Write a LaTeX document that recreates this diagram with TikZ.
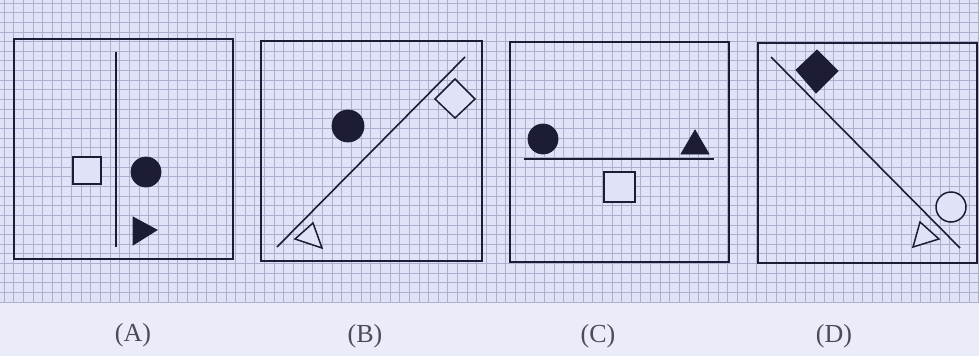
\documentclass[tikz,border=0pt]{standalone}
\usepackage{fontspec}
\setmainfont{Liberation Serif}
\definecolor{bgband}{RGB}{234,236,250}
\definecolor{bggrid}{RGB}{224,227,248}
\definecolor{gridline}{RGB}{172,176,206}
\definecolor{ink}{RGB}{28,28,52}
\definecolor{labelink}{RGB}{75,75,90}
\begin{document}
\begin{tikzpicture}[x=1pt,y=-1pt,
  framebox/.style={draw=ink,line width=2pt},
  divider/.style={draw=ink,line width=1.6pt},
  hollow/.style={draw=ink,line width=1.5pt,fill=bggrid},
  solid/.style={fill=ink,draw=ink,line width=0.8pt},
  lbl/.style={text=labelink,font=\fontsize{26}{30}\selectfont,inner sep=0pt}]
\useasboundingbox (0,0) rectangle (979,356);
% background
\fill[bgband] (0,0) rectangle (979,356);
\fill[bggrid] (0,0) rectangle (979,303);
\foreach \i in {0,...,101} {
  \draw[gridline,line width=0.9pt] (4+\i*9.65,0) -- (4+\i*9.65,303);
}
\foreach \j in {0,...,31} {
  \draw[gridline,line width=0.9pt] (0,3+\j*9.65) -- (979,3+\j*9.65);
}
% Panel A
\draw[framebox] (14,39) rectangle (233,259);
\coordinate (a1) at (116,52); \coordinate (a2) at (116,247);
\draw[divider] (a1) -- (a2);
\draw[hollow] (73,157) rectangle (101,184);
\fill[solid] (146,172) circle (15);
\filldraw[solid] (133,217) -- (157,230) -- (133,245) -- cycle;
% Panel B
\draw[framebox] (261,41) rectangle (482,261);
\coordinate (b1) at (277,247); \coordinate (b2) at (465,57);
\draw[divider] (b1) -- (b2);
\fill[solid] (348,126) circle (16);
\draw[hollow] (455,79) -- (475,99) -- (455,118) -- (435,99) -- cycle;
\draw[hollow] (295,239) -- (313,223) -- (322,248) -- cycle;
% Panel C
\draw[framebox] (510,42) rectangle (729,262);
\coordinate (c1) at (524,159); \coordinate (c2) at (714,159);
\draw[divider] (c1) -- (c2);
\fill[solid] (543,139) circle (15);
\filldraw[solid] (695,130) -- (709,154) -- (681,154) -- cycle;
\draw[hollow] (604,172) rectangle (635,202);
% Panel D
\draw[framebox] (758,43) rectangle (977,263);
\coordinate (d1) at (771,57); \coordinate (d2) at (960,248);
\draw[divider] (d1) -- (d2);
\filldraw[solid] (817,50) -- (838,71) -- (816,93) -- (796,70) -- cycle;
\draw[hollow] (951,207) circle (15);
\draw[hollow] (913,247) -- (920,222) -- (939,239) -- cycle;
% labels
\node[lbl] (la) at (133,335) {(A)};
\node[lbl] (lb) at (365,336) {(B)};
\node[lbl] (lc) at (598,336) {(C)};
\node[lbl] (ld) at (834,336) {(D)};
\end{tikzpicture}
\end{document}
